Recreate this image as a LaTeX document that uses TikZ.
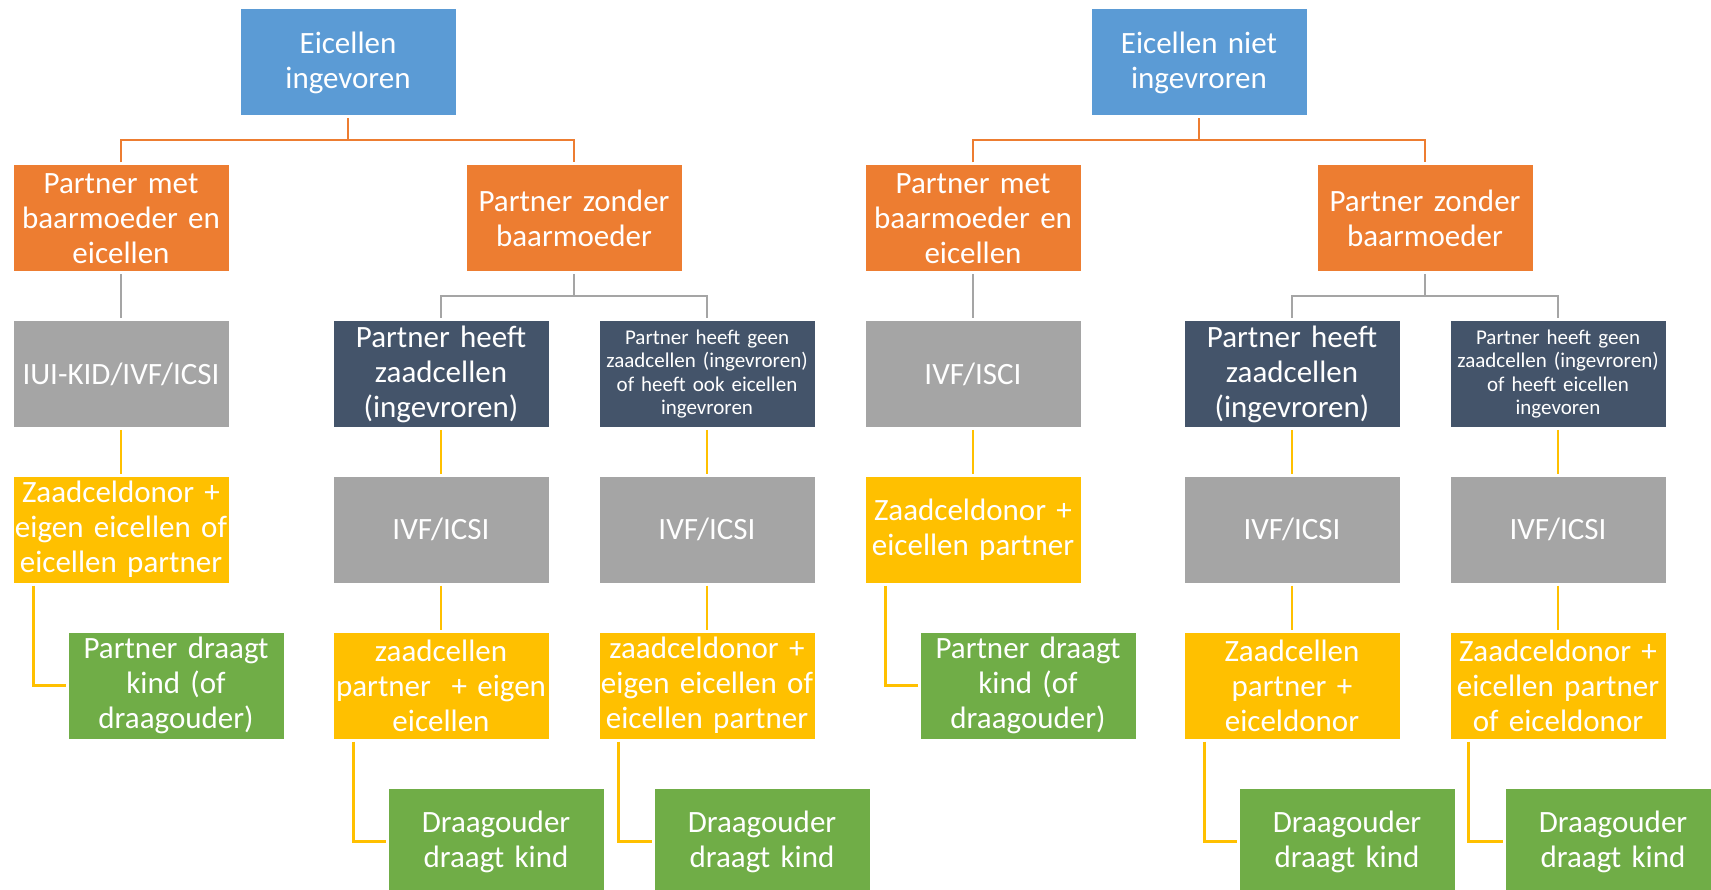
\documentclass[tikz,border=0pt]{standalone}
\usepackage{fontspec}
\setmainfont{Carlito}
\definecolor{cblue}{HTML}{5B9BD5}
\definecolor{corange}{HTML}{ED7D31}
\definecolor{cgray}{HTML}{A5A5A5}
\definecolor{cdark}{HTML}{44546A}
\definecolor{cgold}{HTML}{FFC000}
\definecolor{cgreen}{HTML}{70AD47}
\tikzset{
  box/.style={rectangle, minimum width=216pt, minimum height=107pt, inner sep=0pt,
    text width=214pt, align=center, text=white, draw=white, line width=1pt,
    font=\fontsize{31}{35}\selectfont},
  small/.style={font=\fontsize{21}{23.3}\selectfont},
  bluebox/.style={box, fill=cblue},
  orangebox/.style={box, fill=corange},
  graybox/.style={box, fill=cgray},
  darkbox/.style={box, fill=cdark},
  goldbox/.style={box, fill=cgold},
  greenbox/.style={box, fill=cgreen},
  conn/.style={line width=2.2pt, shorten <=2pt, shorten >=2pt},
  oline/.style={conn, draw=corange},
  gline/.style={conn, draw=cgray},
  yline/.style={conn, draw=cgold},
}
\begin{document}
\begin{tikzpicture}[x=1pt,y=-1pt]
\useasboundingbox (0,0) rectangle (1711,890);
\clip (0,0) rectangle (1711,890);
% top
\node[bluebox] (A) at (348,62.5) {Eicellen\\ingevoren};
\node[bluebox] (B) at (1199,62.5) {Eicellen niet\\ingevroren};
% row 2
\node[orangebox] (L1) at (121,218.5) {Partner met\\baarmoeder en\\eicellen};
\node[orangebox] (L2) at (574,218.5) {Partner zonder\\baarmoeder};
\node[orangebox] (R1) at (973,218.5) {Partner met\\baarmoeder en\\eicellen};
\node[orangebox] (R2) at (1425,218.5) {Partner zonder\\baarmoeder};
% row 3
\node[graybox] (L1a) at (121,374) {IUI-KID/IVF/ICSI};
\node[darkbox] (L2a) at (441,374) {Partner heeft\\zaadcellen\\(ingevroren)};
\node[darkbox, small] (L2b) at (707,374) {Partner heeft geen\\zaadcellen (ingevroren)\\of heeft ook eicellen\\ingevroren};
\node[graybox] (R1a) at (973,374) {IVF/ISCI};
\node[darkbox] (R2a) at (1292,374) {Partner heeft\\zaadcellen\\(ingevroren)};
\node[darkbox, small] (R2b) at (1558,374) {Partner heeft geen\\zaadcellen (ingevroren)\\of heeft eicellen\\ingevoren};
% row 4
\node[goldbox] (L1b) at (121,529.5) {Zaadceldonor +\\eigen eicellen of\\eicellen partner};
\node[graybox] (L2c) at (441,529.5) {IVF/ICSI};
\node[graybox] (L2d) at (707,529.5) {IVF/ICSI};
\node[goldbox] (R1b) at (973,529.5) {Zaadceldonor +\\eicellen partner};
\node[graybox] (R2c) at (1292,529.5) {IVF/ICSI};
\node[graybox] (R2d) at (1558,529.5) {IVF/ICSI};
% row 5
\node[greenbox] (L1c) at (176,685.5) {Partner draagt\\kind (of\\draagouder)};
\node[goldbox] (L2e) at (441,685.5) {zaadcellen\\partner~~+ eigen\\eicellen};
\node[goldbox] (L2f) at (707,685.5) {zaadceldonor +\\eigen eicellen of\\eicellen partner};
\node[greenbox] (R1c) at (1028,685.5) {Partner draagt\\kind (of\\draagouder)};
\node[goldbox] (R2e) at (1292,685.5) {Zaadcellen\\partner +\\eiceldonor};
\node[goldbox] (R2f) at (1558,685.5) {Zaadceldonor +\\eicellen partner\\of eiceldonor};
% row 6
\node[greenbox] (L2g) at (496,841.5) {Draagouder\\draagt kind};
\node[greenbox] (L2h) at (762,841.5) {Draagouder\\draagt kind};
\node[greenbox] (R2g) at (1347,841.5) {Draagouder\\draagt kind};
\node[greenbox] (R2h) at (1613,841.5) {Draagouder\\draagt kind};
% buses
\coordinate (bA) at (348,140);
\coordinate (bB) at (1199,140);
\coordinate (bL2) at (574,296);
\coordinate (bR2) at (1425,296);
% orange connectors
\draw[oline, shorten >=0pt] (A.south) -- (bA);
\draw[oline] (L1.north) |- (bA) -| (L2.north);
\draw[oline, shorten >=0pt] (B.south) -- (bB);
\draw[oline] (R1.north) |- (bB) -| (R2.north);
% gray connectors
\draw[gline] (L1.south) -- (L1a.north);
\draw[gline] (R1.south) -- (R1a.north);
\draw[gline, shorten >=0pt] (L2.south) -- (bL2);
\draw[gline] (L2a.north) |- (bL2) -| (L2b.north);
\draw[gline, shorten >=0pt] (R2.south) -- (bR2);
\draw[gline] (R2a.north) |- (bR2) -| (R2b.north);
% gold connectors
\draw[yline] (L1a.south) -- (L1b.north);
\draw[yline] (L2a.south) -- (L2c.north);
\draw[yline] (L2b.south) -- (L2d.north);
\draw[yline] (L2c.south) -- (L2e.north);
\draw[yline] (L2d.south) -- (L2f.north);
\draw[yline] (R1a.south) -- (R1b.north);
\draw[yline] (R2a.south) -- (R2c.north);
\draw[yline] (R2b.south) -- (R2d.north);
\draw[yline] (R2c.south) -- (R2e.north);
\draw[yline] (R2d.south) -- (R2f.north);
% elbow connectors
\draw[yline] (L1b.south west) ++(21,0) |- (L1c.west);
\draw[yline] (L2e.south west) ++(21,0) |- (L2g.west);
\draw[yline] (L2f.south west) ++(20,0) |- (L2h.west);
\draw[yline] (R1b.south west) ++(21,0) |- (R1c.west);
\draw[yline] (R2e.south west) ++(21,0) |- (R2g.west);
\draw[yline] (R2f.south west) ++(19,0) |- (R2h.west);
\end{tikzpicture}
\end{document}
